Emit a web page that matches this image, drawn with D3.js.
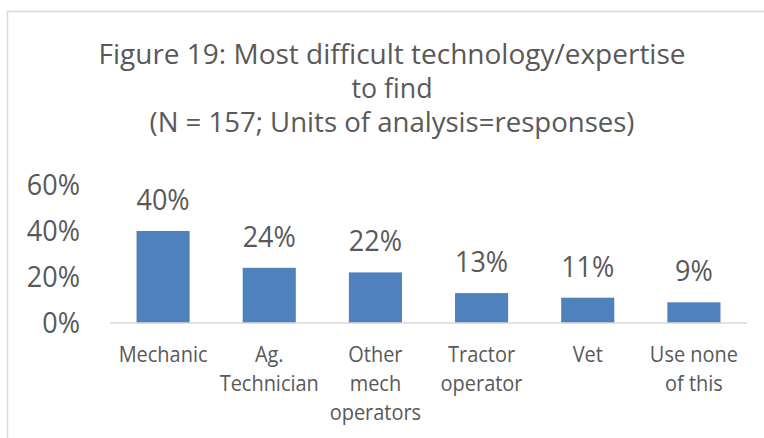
<!DOCTYPE html>
<html>
<head>
<meta charset="utf-8">
<script src="https://cdn.jsdelivr.net/npm/d3@7"></script>
<style>
  html, body { margin: 0; padding: 0; background: #fff; }
  svg { display: block; font-family: "Open Sans", "DejaVu Sans", sans-serif; }
</style>
</head>
<body>
<div id="chart"></div>
<script>
// values
var categories = ["Mechanic", "Ag. Technician", "Other mech operators", "Tractor operator", "Vet", "Use none of this"];
var catLines = [["Mechanic"], ["Ag.", "Technician"], ["Other", "mech", "operators"], ["Tractor", "operator"], ["Vet"], ["Use none", "of this"]];
var values = [0.40, 0.24, 0.22, 0.13, 0.11, 0.09];
var yTicks = [0, 0.2, 0.4, 0.6];
var titleLines = ["Figure 19: Most difficult technology/expertise", "to find", "(N = 157; Units of analysis=responses)"];
var titleWidths = [587, 81, 485];

var width = 764, height = 438;
var textColor = "#595959";
var pct = d3.format(".0%");

// squeeze text a little so Open Sans looks closer to the narrow original font
function squeeze(sel, k) {
  sel.each(function() {
    var w = this.getComputedTextLength();
    d3.select(this).attr("textLength", w * k).attr("lengthAdjust", "spacingAndGlyphs");
  });
}

var svg = d3.select("#chart").append("svg")
    .attr("width", width)
    .attr("height", height);

// chart area border (runs off the right and bottom edges)
svg.append("rect")
    .attr("x", 7.5).attr("y", 11.5)
    .attr("width", 800).attr("height", 500)
    .attr("fill", "none")
    .attr("stroke", "#d9d9d9")
    .attr("stroke-width", 1.5);

// title
var title = svg.append("g").attr("fill", textColor);
titleLines.forEach(function(t, i) {
  title.append("text")
      .attr("x", 392)
      .attr("y", 64 + i * 34)
      .attr("text-anchor", "middle")
      .attr("font-size", 27)
      .attr("textLength", titleWidths[i])
      .attr("lengthAdjust", "spacingAndGlyphs")
      .text(t);
});

var x = d3.scaleBand()
    .domain(categories)
    .range([110, 747])
    .paddingInner(0.5)
    .paddingOuter(0.25);

var y = d3.scaleLinear()
    .domain([0, 0.6])
    .range([323, 185]);

// y axis labels, no line
var yAxis = d3.axisLeft(y)
    .tickValues(yTicks)
    .tickFormat(pct)
    .tickSize(0)
    .tickPadding(0);

svg.append("g")
    .attr("transform", "translate(80,0)")
    .call(yAxis)
    .call(function(g) { g.select(".domain").remove(); })
    .selectAll("text")
      .attr("fill", textColor)
      .attr("font-size", 29)
      .attr("font-family", "Open Sans")
      .call(squeeze, 0.93);

// bars
svg.append("g").selectAll("rect")
    .data(values)
  .enter().append("rect")
    .attr("x", function(d, i) { return x(categories[i]); })
    .attr("y", function(d) { return y(d); })
    .attr("width", x.bandwidth())
    .attr("height", function(d) { return y(0) - y(d); })
    .attr("fill", "#4f81bd");

// baseline
svg.append("line")
    .attr("x1", x.range()[0]).attr("x2", x.range()[1])
    .attr("y1", y(0)).attr("y2", y(0))
    .attr("stroke", "#d9d9d9")
    .attr("stroke-width", 1.5);

// data labels
svg.append("g").selectAll("text")
    .data(values)
  .enter().append("text")
    .attr("x", function(d, i) { return x(categories[i]) + x.bandwidth() / 2; })
    .attr("y", function(d) { return y(d) - 21; })
    .attr("text-anchor", "middle")
    .attr("font-size", 29)
    .attr("fill", textColor)
    .text(function(d) { return pct(d); })
    .call(squeeze, 0.93);

// category labels
var cats = svg.append("g").selectAll("text")
    .data(catLines)
  .enter().append("text")
    .attr("text-anchor", "middle")
    .attr("font-size", 21)
    .attr("fill", textColor);

cats.each(function(lines, i) {
  var cx = x(categories[i]) + x.bandwidth() / 2;
  d3.select(this).selectAll("tspan")
      .data(lines)
    .enter().append("tspan")
      .attr("x", cx)
      .attr("y", function(d, j) { return 362 + j * 29; })
      .text(function(d) { return d; });
});
cats.selectAll("tspan").each(function() {
  var w = this.getComputedTextLength();
  d3.select(this).attr("textLength", w * 0.95).attr("lengthAdjust", "spacingAndGlyphs");
});
</script>
</body>
</html>
